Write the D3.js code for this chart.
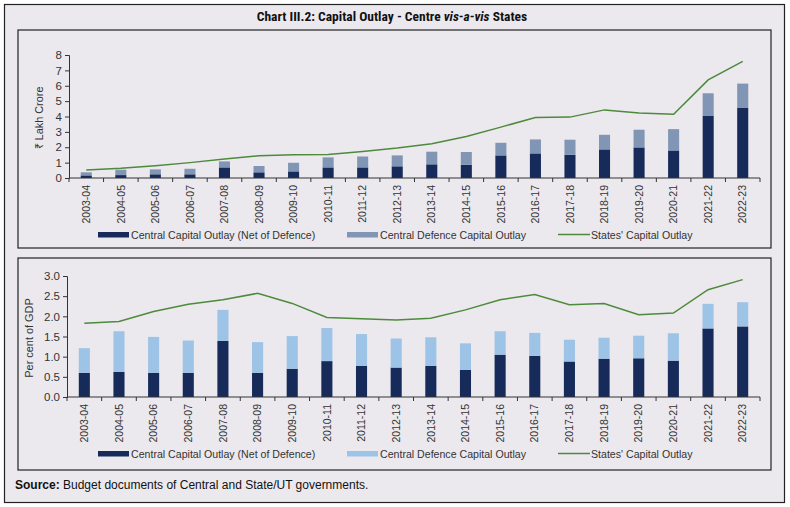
<!DOCTYPE html>
<html>
<head>
<meta charset="utf-8">
<script src="https://cdn.jsdelivr.net/npm/d3@7"></script>
<style>
  body { margin: 0; background: #fff; }
  svg { display: block; }
  text { font-family: "Liberation Sans", Arial, sans-serif; }
  .narrow { font-family: "Liberation Sans Narrow", "Arial Narrow", "Roboto Condensed", "Liberation Sans", sans-serif; }
</style>
</head>
<body>
<svg id="chart" width="790" height="507"></svg>
<script>
const years = ["2003-04","2004-05","2005-06","2006-07","2007-08","2008-09","2009-10","2010-11","2011-12","2012-13",
  "2013-14","2014-15","2015-16","2016-17","2017-18","2018-19","2019-20","2020-21","2021-22","2022-23"];

// ₹ lakh crore
const centralNetCr = [0.17,0.19,0.24,0.24,0.69,0.37,0.43,0.69,0.69,0.76,0.89,0.86,1.47,1.60,1.51,1.86,1.99,1.79,4.06,4.58];
const defenceCr    = [0.20,0.35,0.32,0.36,0.39,0.41,0.56,0.65,0.71,0.71,0.82,0.83,0.82,0.91,0.98,0.95,1.15,1.39,1.45,1.56];
const statesCr     = [0.52,0.63,0.80,1.00,1.23,1.45,1.51,1.53,1.73,1.95,2.23,2.70,3.31,3.94,3.96,4.43,4.22,4.15,6.38,7.59];

// per cent of GDP
const centralNetGdp = [0.60,0.62,0.60,0.60,1.39,0.60,0.70,0.89,0.77,0.73,0.77,0.67,1.05,1.02,0.88,0.95,0.96,0.90,1.70,1.75];
const defenceGdp    = [0.61,1.01,0.89,0.80,0.77,0.76,0.81,0.82,0.79,0.72,0.71,0.66,0.58,0.57,0.54,0.52,0.56,0.68,0.61,0.60];
const statesGdp     = [1.83,1.87,2.12,2.30,2.41,2.57,2.32,1.97,1.94,1.91,1.95,2.16,2.41,2.54,2.29,2.32,2.04,2.08,2.66,2.91];

const topTicks = [0,1,2,3,4,5,6,7,8];
const bottomTicks = [0,0.5,1,1.5,2,2.5,3];

const legendLabels = ["Central Capital Outlay (Net of Defence)", "Central Defence Capital Outlay", "States' Capital Outlay"];

const navy = "#162b5a";
const greyBlue = "#8196b4";
const lightBlue = "#9dc3e6";
const green = "#4d8a3c";
const bg = "#ebe9ee";

const svg = d3.select("#chart");

// outer frame and title
svg.append("rect").attr("x", 4.5).attr("y", 4.5).attr("width", 780).attr("height", 498)
  .attr("fill", bg).attr("stroke", "#222").attr("stroke-width", 1.2);
svg.append("text").attr("class", "narrow").attr("x", 392).attr("y", 21).attr("text-anchor", "middle")
  .attr("font-size", 13.5).attr("font-weight", "bold").attr("fill", "#111")
  .html('Chart III.2: Capital Outlay - Centre <tspan font-style="italic">vis-a-vis</tspan> States');

svg.append("text").attr("x", 15).attr("y", 489)
  .attr("font-size", 12).attr("fill", "#111")
  .html('<tspan font-weight="bold">Source:</tspan> Budget documents of Central and State/UT governments.');

function panel(cfg) {
  svg.append("rect").attr("x", 18).attr("y", cfg.top).attr("width", 753).attr("height", cfg.h)
    .attr("fill", bg).attr("stroke", "#222").attr("stroke-width", 1.2);

  const x = d3.scaleBand().domain(years).range([cfg.x0, 760]).paddingInner(0.68).paddingOuter(0.34);
  const y = d3.scaleLinear().domain(cfg.domain).range([cfg.y0, cfg.y1]);
  const g = svg.append("g");

  // bars
  g.selectAll(".c").data(years).join("rect")
    .attr("x", d => x(d)).attr("width", x.bandwidth())
    .attr("y", (d, i) => y(cfg.central[i]))
    .attr("height", (d, i) => y(0) - y(cfg.central[i]))
    .attr("fill", navy);
  g.selectAll(".d").data(years).join("rect")
    .attr("x", d => x(d)).attr("width", x.bandwidth())
    .attr("y", (d, i) => y(cfg.central[i] + cfg.defence[i]))
    .attr("height", (d, i) => y(cfg.central[i]) - y(cfg.central[i] + cfg.defence[i]))
    .attr("fill", cfg.defColor);

  // states line
  const line = d3.line().x((d, i) => x(years[i]) + x.bandwidth() / 2).y(d => y(d));
  g.append("path").datum(cfg.states).attr("d", line)
    .attr("fill", "none").attr("stroke", green).attr("stroke-width", 1.5);

  // y axis
  const ya = g.append("g").attr("transform", `translate(${cfg.x0},0)`)
    .call(d3.axisLeft(y).tickValues(cfg.ticks).tickSize(4).tickFormat(cfg.fmt));
  ya.select(".domain").attr("stroke", "#333");
  ya.selectAll(".tick line").attr("stroke", "#333");
  ya.selectAll("text").attr("font-size", 11.5).attr("fill", "#333").attr("font-family", "Liberation Sans, Arial, sans-serif");

  // x axis
  const xa = g.append("g").attr("transform", `translate(0,${cfg.y0})`)
    .call(d3.axisBottom(x).tickSize(0).tickPadding(6));
  xa.select(".domain").attr("stroke", "#333").attr("d", `M${cfg.x0},0H760`);
  xa.selectAll("text").attr("font-size", 10.5).attr("fill", "#333")
    .attr("font-family", "Liberation Sans, Arial, sans-serif")
    .attr("transform", "rotate(-90)").attr("text-anchor", "end")
    .attr("x", -7).attr("y", 0).attr("dy", "0.35em");
  const bounds = d3.range(years.length + 1).map(i => cfg.x0 + i * x.step());
  xa.selectAll(".bt").data(bounds).join("line")
    .attr("x1", d => d).attr("x2", d => d).attr("y1", 0).attr("y2", 4).attr("stroke", "#333");

  // y title
  g.append("text").attr("transform", `translate(${cfg.labelX},${cfg.labelY}) rotate(-90)`)
    .attr("text-anchor", "middle").attr("font-size", 10.9).attr("fill", "#333").text(cfg.yLabel);

  // legend
  const lg = g.append("g").attr("transform", `translate(0,${cfg.legY})`);
  const items = [
    {x: 98, label: legendLabels[0], type: "rect", color: navy},
    {x: 347, label: legendLabels[1], type: "rect", color: cfg.defColor},
    {x: 558, label: legendLabels[2], type: "line", color: green}
  ];
  items.forEach(it => {
    if (it.type === "rect") {
      lg.append("rect").attr("x", it.x).attr("y", -4).attr("width", 31).attr("height", 5.5).attr("fill", it.color);
    } else {
      lg.append("line").attr("x1", it.x).attr("x2", it.x + 32).attr("y1", -1.5).attr("y2", -1.5)
        .attr("stroke", it.color).attr("stroke-width", 1.5);
    }
    lg.append("text").attr("x", it.x + 33).attr("y", 2.5).attr("font-size", 10.6).attr("fill", "#333").text(it.label);
  });
}

panel({
  top: 30, h: 218, x0: 69, y0: 178, y1: 55, domain: [0, 8], ticks: topTicks, fmt: d3.format("d"),
  central: centralNetCr, defence: defenceCr, states: statesCr, defColor: greyBlue,
  yLabel: "₹ Lakh Crore", labelX: 43, labelY: 118, legY: 236
});
panel({
  top: 258, h: 212, x0: 67, y0: 397, y1: 276, domain: [0, 3], ticks: bottomTicks, fmt: d3.format(".1f"),
  central: centralNetGdp, defence: defenceGdp, states: statesGdp, defColor: lightBlue,
  yLabel: "Per cent of GDP", labelX: 33, labelY: 338, legY: 455
});
</script>
</body>
</html>
